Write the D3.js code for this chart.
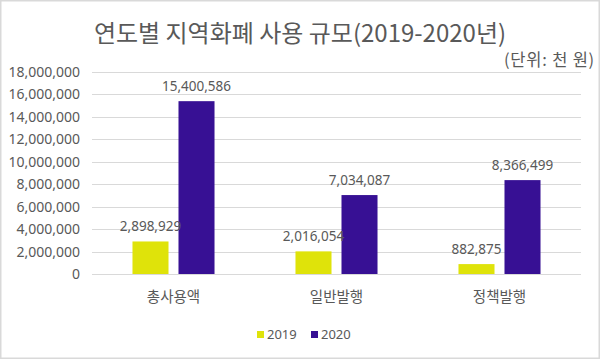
<!DOCTYPE html>
<html>
<head>
<meta charset="utf-8">
<script src="https://cdn.jsdelivr.net/npm/d3@7"></script>
<style>
  html, body { margin: 0; padding: 0; background: #fff; }
  svg { display: block; }
  text { font-family: "Noto Sans", "Noto Sans CJK KR", sans-serif; fill: #595959; }
</style>
</head>
<body>
<svg id="chart" width="600" height="359"></svg>
<script>
const categories = ["총사용액", "일반발행", "정책발행"];
const seriesNames = ["2019", "2020"];
const values2019 = [2898929, 2016054, 882875];
const values2020 = [15400586, 7034087, 8366499];
const yTicks = [0, 2000000, 4000000, 6000000, 8000000, 10000000, 12000000, 14000000, 16000000, 18000000];
const colors = ["#DFE30A", "#371094"];
const title = "연도별 지역화폐 사용 규모(2019-2020년)";
const unitLabel = "(단위: 천 원)";

const svg = d3.select("#chart");
const W = 600, H = 359;
const plot = { left: 92, right: 581, top: 72, bottom: 274 };

svg.append("rect").attr("x", 0.75).attr("y", 0.75).attr("width", W - 1.5).attr("height", H - 1.5)
  .attr("fill", "#fff").attr("stroke", "#d9d9d9").attr("stroke-width", 1.5);

const x0 = d3.scaleBand().domain(categories).range([plot.left, plot.right]).padding(0);
const x1 = d3.scaleBand().domain(seriesNames).range([0, x0.bandwidth()])
  .paddingInner(0.217).paddingOuter(0.88);
const y = d3.scaleLinear().domain([0, 18000000]).range([plot.bottom, plot.top]);

// gridlines
svg.append("g").selectAll("line").data(yTicks).join("line")
  .attr("x1", plot.left).attr("x2", plot.right)
  .attr("y1", d => Math.round(y(d)) + 0.5).attr("y2", d => Math.round(y(d)) + 0.5)
  .attr("stroke", "#d9d9d9").attr("stroke-width", 1);

// y axis labels
const fmt = d3.format(",");
const yAxis = d3.axisLeft(y).tickValues(yTicks).tickFormat(fmt).tickSize(0).tickPadding(0);
const yg = svg.append("g").attr("transform", `translate(80,0)`).call(yAxis);
yg.select(".domain").remove();
yg.selectAll("text").attr("font-size", 14).attr("fill", "#595959")
  .style("font-family", '"Noto Sans", "Noto Sans CJK KR", sans-serif');

// bars
const data = categories.map((c, i) => ({ cat: c, vals: [
  { s: "2019", v: values2019[i] }, { s: "2020", v: values2020[i] } ] }));

const groups = svg.append("g").selectAll("g").data(data).join("g")
  .attr("transform", d => `translate(${x0(d.cat)},0)`);

groups.selectAll("rect").data(d => d.vals).join("rect")
  .attr("x", d => x1(d.s)).attr("width", x1.bandwidth())
  .attr("y", d => y(d.v)).attr("height", d => y(0) - y(d.v))
  .attr("fill", (d, i) => colors[i]);

groups.selectAll("text").data(d => d.vals).join("text")
  .attr("x", d => x1(d.s) + x1.bandwidth() / 2)
  .attr("y", d => y(d.v) - 10)
  .attr("text-anchor", "middle").attr("font-size", 13.5)
  .text(d => fmt(d.v));

// x axis labels
const xAxis = d3.axisBottom(x0).tickSize(0).tickPadding(0);
const xg = svg.append("g").attr("transform", `translate(0,${plot.bottom})`).call(xAxis);
xg.select(".domain").remove();
xg.selectAll("text").attr("font-size", 14.5).attr("fill", "#595959").attr("dy", null).attr("y", 28)
  .style("font-family", '"Noto Sans CJK KR", sans-serif');

// title
svg.append("text").attr("x", 300).attr("y", 42).attr("text-anchor", "middle")
  .attr("font-size", 24).style("font-family", '"Noto Sans CJK KR", sans-serif').text(title);
svg.append("text").attr("x", 595).attr("y", 66).attr("text-anchor", "end")
  .attr("font-size", 16.5).attr("letter-spacing", 0.8)
  .style("font-family", '"Noto Sans CJK KR", sans-serif').text(unitLabel);

// legend
const legendX = [257, 311];
const lg = svg.append("g").selectAll("g").data(seriesNames).join("g")
  .attr("transform", (d, i) => `translate(${legendX[i]},0)`);
lg.append("rect").attr("x", 0).attr("y", 331).attr("width", 7).attr("height", 7)
  .attr("fill", (d, i) => colors[i]);
lg.append("text").attr("x", 10).attr("y", 339).attr("font-size", 13).text(d => d);
</script>
</body>
</html>
